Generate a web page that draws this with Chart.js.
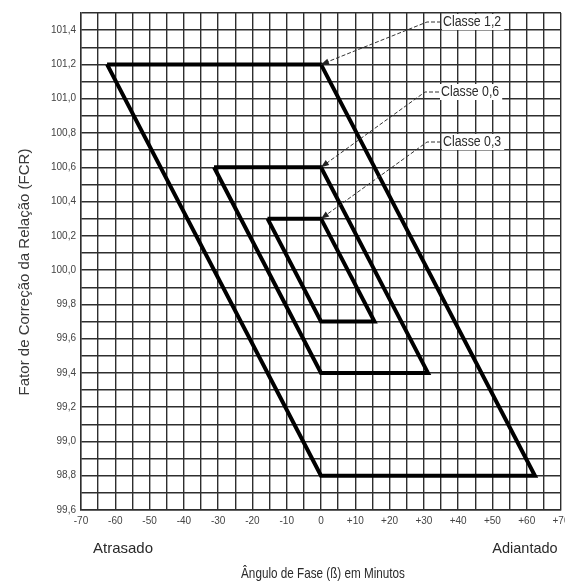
<!DOCTYPE html>
<html>
<head>
<meta charset="utf-8">
<script src="https://cdn.jsdelivr.net/npm/chart.js@4.4.1/dist/chart.umd.min.js"></script>
<style>
  html, body { margin: 0; padding: 0; background: #fff; }
  #wrap { width: 565px; height: 585px; position: relative; }
</style>
</head>
<body>
<div id="wrap"><canvas id="c" width="565" height="585"></canvas></div>
<script>
// Accuracy classes: parallelograms of FCR vs phase angle (minutes)
const classNames = ['Classe 1,2', 'Classe 0,6', 'Classe 0,3'];
const classPhase = [
  [-62.4, 0, 62.4, 0, -62.4],
  [-31.2, 0, 31.2, 0, -31.2],
  [-15.6, 0, 15.6, 0, -15.6]
];
const classFcr = [
  [101.2, 101.2, 98.8, 98.8, 101.2],
  [100.6, 100.6, 99.4, 99.4, 100.6],
  [100.3, 100.3, 99.7, 99.7, 100.3]
];

// Axis tick labels
const phaseTicks = [-70, -60, -50, -40, -30, -20, -10, 0, 10, 20, 30, 40, 50, 60, 70];
const phaseTickLabels = ['-70', '-60', '-50', '-40', '-30', '-20', '-10', '0', '+10', '+20', '+30', '+40', '+50', '+60', '+70'];
const fcrTicks = [101.4, 101.2, 101.0, 100.8, 100.6, 100.4, 100.2, 100.0, 99.8, 99.6, 99.4, 99.2, 99.0, 98.8, 98.6];
const fcrTickLabels = ['101,4', '101,2', '101,0', '100,8', '100,6', '100,4', '100,2', '100,0', '99,8', '99,6', '99,4', '99,2', '99,0', '98,8', '99,6'];

const yTitle = 'Fator de Correção da Relação (FCR)';
const xTitle = 'Ângulo de Fase (ß) em Minutos';
const leftNote = 'Atrasado';
const rightNote = 'Adiantado';

const FONT = '"Liberation Sans", Arial, Helvetica, sans-serif';
const GRID = '#2e2e2e';

function labelFor(values, labels, v) {
  for (let i = 0; i < values.length; i++) {
    if (Math.abs(values[i] - v) < 1e-6) return labels[i];
  }
  return '';
}

function drawText(ctx, text, x, y, size, sx, align, color) {
  ctx.save();
  ctx.translate(x, y);
  ctx.scale(sx, 1);
  ctx.font = size + 'px ' + FONT;
  ctx.fillStyle = color;
  ctx.textAlign = align;
  ctx.textBaseline = 'middle';
  ctx.fillText(text, 0, 0);
  ctx.restore();
}

// Callout label positions (pixels) for each class
const calloutAnchors = [
  { x: 427, y: 22 },
  { x: 425, y: 92 },
  { x: 427, y: 142 }
];

const notesPlugin = {
  id: 'notes',
  afterDraw(chart) {
    const ctx = chart.ctx;
    const xs = chart.scales.x, ys = chart.scales.y;
    ctx.save();

    classNames.forEach((name, i) => {
      const tipX = xs.getPixelForValue(classPhase[i][1]);
      const tipY = ys.getPixelForValue(classFcr[i][1]);
      const a = calloutAnchors[i];

      // leader line
      ctx.strokeStyle = '#333';
      ctx.lineWidth = 1;
      ctx.setLineDash([4, 2]);
      ctx.beginPath();
      ctx.moveTo(a.x + 14, a.y);
      ctx.lineTo(a.x, a.y);
      ctx.lineTo(tipX, tipY);
      ctx.stroke();
      ctx.setLineDash([]);

      // arrow head
      const ang = Math.atan2(tipY - a.y, tipX - a.x);
      const L = 8, W = 3;
      ctx.fillStyle = '#222';
      ctx.beginPath();
      ctx.moveTo(tipX, tipY);
      ctx.lineTo(tipX - L * Math.cos(ang) + W * Math.sin(ang), tipY - L * Math.sin(ang) - W * Math.cos(ang));
      ctx.lineTo(tipX - L * Math.cos(ang) - W * Math.sin(ang), tipY - L * Math.sin(ang) + W * Math.cos(ang));
      ctx.closePath();
      ctx.fill();

      // label with white box
      const size = 14, sx = 0.88;
      ctx.font = size + 'px ' + FONT;
      const w = ctx.measureText(name).width * sx;
      const tx = a.x + 16;
      ctx.fillStyle = '#fff';
      ctx.fillRect(tx - 1, a.y - 8, w + 4, 16);
      drawText(ctx, name, tx, a.y + 0.5, size, sx, 'left', '#2a2a2a');
    });

    // axis titles and side notes
    drawText(ctx, leftNote, 123, 549, 15, 1, 'center', '#2a2a2a');
    drawText(ctx, rightNote, 525, 549, 14.5, 1, 'center', '#2a2a2a');
    drawText(ctx, xTitle, 323, 574, 15, 0.78, 'center', '#2a2a2a');

    ctx.save();
    ctx.translate(25, 272);
    ctx.rotate(-Math.PI / 2);
    drawText(ctx, yTitle, 0, 0, 15, 1, 'center', '#3a3a3a');
    ctx.restore();

    ctx.restore();
  }
};

const datasets = classNames.map((name, i) => ({
  label: name,
  data: classPhase[i].map((p, k) => ({ x: p, y: classFcr[i][k] })),
  showLine: true,
  borderColor: '#000',
  borderWidth: 4,
  borderJoinStyle: 'miter',
  pointRadius: 0,
  fill: false,
  tension: 0
}));

new Chart(document.getElementById('c'), {
  type: 'scatter',
  data: { datasets },
  options: {
    responsive: false,
    devicePixelRatio: 1,
    animation: false,
    layout: { padding: { left: 0, right: 4, top: 13, bottom: 0 } },
    plugins: {
      legend: { display: false },
      tooltip: { enabled: false }
    },
    scales: {
      x: {
        type: 'linear',
        min: -70,
        max: 70,
        afterFit(scale) {
          scale.height = 75;
          scale.paddingLeft = 0;
          scale.paddingRight = 0;
        },
        grid: { color: GRID, lineWidth: 1.4, drawTicks: false },
        border: { color: GRID, width: 1.4 },
        ticks: {
          stepSize: 5,
          autoSkip: false,
          maxRotation: 0,
          padding: 5,
          color: '#444',
          font: { family: FONT, size: 10 },
          callback: (v) => labelFor(phaseTicks, phaseTickLabels, v)
        }
      },
      y: {
        type: 'linear',
        min: 98.6,
        max: 101.5,
        afterFit(scale) {
          scale.width = 81;
          scale.paddingTop = 0;
          scale.paddingBottom = 0;
        },
        grid: { color: GRID, lineWidth: 1.4, drawTicks: false },
        border: { color: GRID, width: 1.4 },
        ticks: {
          stepSize: 0.1,
          autoSkip: false,
          padding: 5,
          color: '#444',
          font: { family: FONT, size: 10 },
          callback: (v) => labelFor(fcrTicks, fcrTickLabels, v)
        }
      }
    }
  },
  plugins: [notesPlugin]
});
</script>
</body>
</html>
